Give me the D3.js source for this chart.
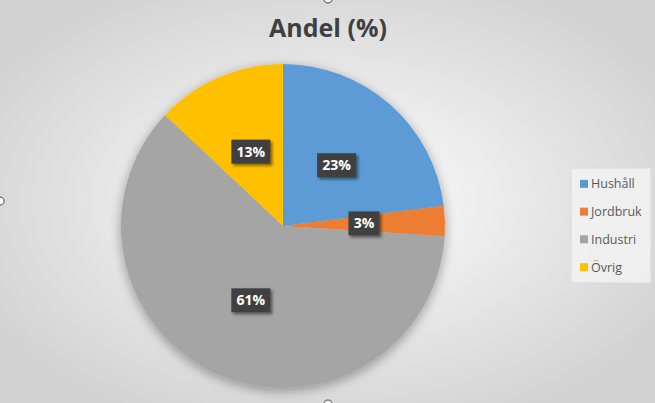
<!DOCTYPE html>
<html>
<head>
<meta charset="utf-8">
<script src="https://cdn.jsdelivr.net/npm/d3@7"></script>
<style>
  html, body { margin: 0; padding: 0; overflow: hidden; }
  svg { display: block; }
</style>
</head>
<body>
<svg id="chart" width="655" height="403"></svg>
<script>
// data
const categories = ['Hushåll', 'Jordbruk', 'Industri', 'Övrig'];
const shares = [23, 3, 61, 13];
const colors = ['#5b9bd5', '#ed7d31', '#a5a5a5', '#ffc000'];
const title = 'Andel (%)';

const W = 655, H = 403;
const cx = 283, cy = 226, R = 162;

const svg = d3.select('#chart');
const defs = svg.append('defs');

// chart area background: light radial gradient
const bg = defs.append('radialGradient').attr('id', 'bg')
  .attr('cx', '50%').attr('cy', '50%').attr('r', '60%');
bg.append('stop').attr('offset', '0%').attr('stop-color', '#ffffff');
bg.append('stop').attr('offset', '100%').attr('stop-color', '#d2d2d2');

const shadow = defs.append('filter').attr('id', 'shadow')
  .attr('x', '-20%').attr('y', '-20%').attr('width', '140%').attr('height', '140%');
shadow.append('feGaussianBlur').attr('in', 'SourceAlpha').attr('stdDeviation', 6);
shadow.append('feOffset').attr('dx', 0).attr('dy', 3).attr('result', 'blur');
shadow.append('feComponentTransfer').append('feFuncA').attr('type', 'linear').attr('slope', 0.35);
const merge = shadow.append('feMerge');
merge.append('feMergeNode');
merge.append('feMergeNode').attr('in', 'SourceGraphic');

const labelShadow = defs.append('filter').attr('id', 'lshadow')
  .attr('x', '-30%').attr('y', '-30%').attr('width', '160%').attr('height', '170%');
labelShadow.append('feGaussianBlur').attr('in', 'SourceAlpha').attr('stdDeviation', 1.5);
labelShadow.append('feOffset').attr('dx', 2).attr('dy', 2);
labelShadow.append('feComponentTransfer').append('feFuncA').attr('type', 'linear').attr('slope', 0.5);
const lm = labelShadow.append('feMerge');
lm.append('feMergeNode');
lm.append('feMergeNode').attr('in', 'SourceGraphic');

svg.append('rect').attr('width', W).attr('height', H).attr('fill', 'url(#bg)');

// title
svg.append('text')
  .attr('x', 328).attr('y', 37)
  .attr('text-anchor', 'middle')
  .attr('font-family', 'Open Sans, sans-serif')
  .attr('font-weight', 'bold')
  .attr('font-size', 25)
  .attr('fill', '#404040')
  .text(title);

// pie
const pie = d3.pie().sort(null).value(d => d);
const arcs = pie(shares);
const arc = d3.arc().innerRadius(0).outerRadius(R);
const labelArc = d3.arc().innerRadius(R / 2).outerRadius(R / 2);

const g = svg.append('g').attr('transform', `translate(${cx},${cy})`);

g.append('g').attr('filter', 'url(#shadow)')
  .selectAll('path')
  .data(arcs)
  .enter().append('path')
  .attr('d', arc)
  .attr('fill', (d, i) => colors[i]);

// data labels
const labels = g.selectAll('.label')
  .data(arcs)
  .enter().append('g')
  .attr('class', 'label')
  .attr('transform', d => `translate(${labelArc.centroid(d)})`);

labels.each(function(d) {
  const lab = d3.select(this);
  const txt = d.data + '%';
  const w = txt.length > 2 ? 39 : 31;
  lab.append('rect')
    .attr('x', -w / 2).attr('y', -12)
    .attr('width', w).attr('height', 24)
    .attr('fill', '#404040')
    .attr('filter', 'url(#lshadow)');
  lab.append('text')
    .attr('text-anchor', 'middle')
    .attr('dy', 5)
    .attr('font-family', 'Open Sans, sans-serif')
    .attr('font-weight', 'bold')
    .attr('font-size', 14)
    .attr('fill', '#ffffff')
    .text(txt);
});

// legend
const legend = svg.append('g').attr('transform', 'translate(571,168)');
legend.append('rect')
  .attr('width', 80).attr('height', 115)
  .attr('fill', '#f2f2f2').attr('fill-opacity', 0.85)
  .attr('stroke', '#d9d9d9');

const y = d3.scaleBand().domain(categories).range([2, 113]);

const items = legend.selectAll('.item')
  .data(categories)
  .enter().append('g')
  .attr('class', 'item')
  .attr('transform', d => `translate(0,${y(d) + y.bandwidth() / 2})`);

items.append('rect')
  .attr('x', 9).attr('y', -4)
  .attr('width', 8).attr('height', 8)
  .attr('fill', (d, i) => colors[i]);

items.append('text')
  .attr('x', 20).attr('dy', 4.5)
  .attr('font-family', 'Open Sans, sans-serif')
  .attr('font-size', 12.5)
  .attr('fill', '#595959')
  .text(d => d);

// selection handles at frame edges
svg.selectAll('.handle')
  .data([[328, -1], [0, 201], [328, 404]])
  .enter().append('circle')
  .attr('class', 'handle')
  .attr('cx', d => d[0]).attr('cy', d => d[1])
  .attr('r', 4)
  .attr('fill', '#ffffff')
  .attr('stroke', '#808080')
  .attr('stroke-width', 1.5);
</script>
</body>
</html>
